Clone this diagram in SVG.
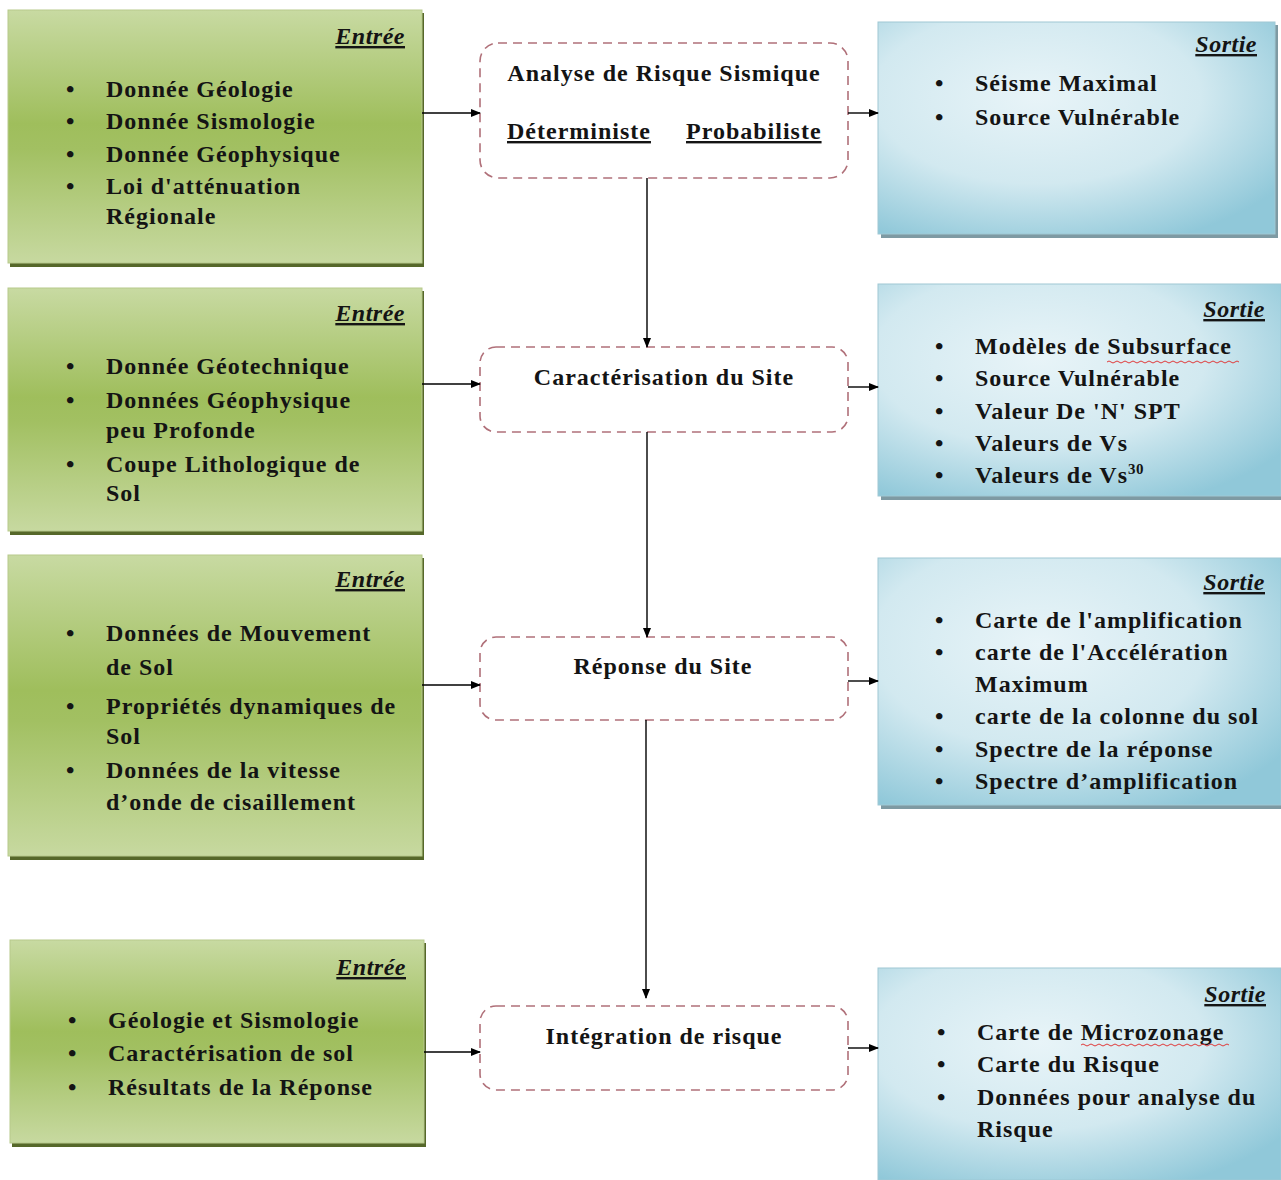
<svg xmlns="http://www.w3.org/2000/svg" width="1281" height="1180" viewBox="0 0 1281 1180">
<defs>
<linearGradient id="gGreen" x1="0" y1="0" x2="0" y2="1">
<stop offset="0" stop-color="#c8daa2"/>
<stop offset="0.45" stop-color="#9fbe5c"/>
<stop offset="0.55" stop-color="#a2c062"/>
<stop offset="1" stop-color="#c7d9a0"/>
</linearGradient>
<radialGradient id="gBlue" cx="0.4" cy="0.35" r="0.75">
<stop offset="0" stop-color="#e8f4f8"/>
<stop offset="0.55" stop-color="#d2e9f0"/>
<stop offset="1" stop-color="#90c8d9"/>
</radialGradient>
<marker id="ah" markerWidth="10" markerHeight="10" refX="9" refY="5" orient="auto" markerUnits="userSpaceOnUse">
<path d="M0,1 L10,5 L0,9 Z" fill="#000"/>
</marker>
</defs>
<style>
text{font-family:"Liberation Serif","Times New Roman",serif;font-weight:bold;font-size:24px;letter-spacing:1px;fill:#141414}
.hd{font-style:italic;text-anchor:end;text-decoration:underline;letter-spacing:0.5px}
.ctr{text-anchor:middle}
.ul{text-decoration:underline}
.green{fill:url(#gGreen);stroke:#b7c98c;stroke-width:1}
.gshadow{fill:#56682a}
.blue{fill:url(#gBlue);stroke:#9fc8d4;stroke-width:1}
.bshadow{fill:#7e9aa3}
.dash{fill:#fff;stroke:#b07079;stroke-width:1.6;stroke-dasharray:9 6}
.conn{stroke:#000;stroke-width:1.4;fill:none}
.wave{stroke:#e03a3a;stroke-width:1;fill:none}
</style>

<g id="in1">
<rect class="gshadow" x="10" y="13" width="414" height="254"/>
<rect class="green" x="8" y="10" width="414" height="253"/>
<text class="hd" x="405" y="44">Entrée</text>
<text x="66" y="97">•</text><text x="106" y="97">Donnée Géologie</text>
<text x="66" y="129">•</text><text x="106" y="129">Donnée Sismologie</text>
<text x="66" y="162">•</text><text x="106" y="162">Donnée Géophysique</text>
<text x="66" y="194">•</text><text x="106" y="194">Loi d'atténuation</text>
<text x="106" y="224">Régionale</text>
</g>

<g id="in2">
<rect class="gshadow" x="10" y="291" width="414" height="244"/>
<rect class="green" x="8" y="288" width="414" height="243"/>
<text class="hd" x="405" y="321">Entrée</text>
<text x="66" y="374">•</text><text x="106" y="374">Donnée Géotechnique</text>
<text x="66" y="408">•</text><text x="106" y="408">Données Géophysique</text>
<text x="106" y="438">peu Profonde</text>
<text x="66" y="472">•</text><text x="106" y="472">Coupe Lithologique de</text>
<text x="106" y="501">Sol</text>
</g>

<g id="in3">
<rect class="gshadow" x="10" y="558" width="414" height="302"/>
<rect class="green" x="8" y="555" width="414" height="301"/>
<text class="hd" x="405" y="587">Entrée</text>
<text x="66" y="641">•</text><text x="106" y="641">Données  de Mouvement</text>
<text x="106" y="675">de Sol</text>
<text x="66" y="714">•</text><text x="106" y="714">Propriétés dynamiques de</text>
<text x="106" y="744">Sol</text>
<text x="66" y="778">•</text><text x="106" y="778">Données de la vitesse</text>
<text x="106" y="810">d’onde de cisaillement</text>
</g>

<g id="in4">
<rect class="gshadow" x="12" y="943" width="414" height="204"/>
<rect class="green" x="10" y="940" width="414" height="203"/>
<text class="hd" x="406" y="975">Entrée</text>
<text x="68" y="1028">•</text><text x="108" y="1028">Géologie et Sismologie</text>
<text x="68" y="1061">•</text><text x="108" y="1061">Caractérisation de sol</text>
<text x="68" y="1095">•</text><text x="108" y="1095">Résultats de la Réponse</text>
</g>

<g id="p1">
<rect class="dash" x="480" y="43" width="368" height="135" rx="18"/>
<text class="ctr" x="664" y="81">Analyse de Risque Sismique</text>
<text class="ul" x="507" y="139">Déterministe</text>
<text class="ul" x="686" y="139">Probabiliste</text>
</g>

<g id="p2">
<rect class="dash" x="480" y="347" width="368" height="85" rx="16"/>
<text class="ctr" x="664" y="385">Caractérisation du Site</text>
</g>

<g id="p3">
<rect class="dash" x="480" y="637" width="368" height="83" rx="16"/>
<text class="ctr" x="663" y="674">Réponse du Site</text>
</g>

<g id="p4">
<rect class="dash" x="480" y="1006" width="368" height="84" rx="16"/>
<text class="ctr" x="664" y="1044">Intégration de risque</text>
</g>

<g id="out1">
<rect class="bshadow" x="881" y="25" width="397" height="213"/>
<rect class="blue" x="878" y="22" width="397" height="212"/>
<text class="hd" x="1257" y="52">Sortie</text>
<text x="935" y="91">•</text><text x="975" y="91">Séisme Maximal</text>
<text x="935" y="125">•</text><text x="975" y="125">Source Vulnérable</text>
</g>

<g id="out2">
<rect class="bshadow" x="881" y="287" width="403" height="213"/>
<rect class="blue" x="878" y="284" width="403" height="212"/>
<text class="hd" x="1265" y="317">Sortie</text>
<text x="935" y="354">•</text><text x="975" y="354">Modèles de Subsurface</text>
<path class="wave" d="M1107,362 q2,-2 4,0 t4,0 t4,0 t4,0 t4,0 t4,0 t4,0 t4,0 t4,0 t4,0 t4,0 t4,0 t4,0 t4,0 t4,0 t4,0 t4,0 t4,0 t4,0 t4,0 t4,0 t4,0 t4,0 t4,0 t4,0 t4,0 t4,0 t4,0 t4,0 t4,0 t4,0 t4,0 t4,0"/>
<text x="935" y="386">•</text><text x="975" y="386">Source Vulnérable</text>
<text x="935" y="419">•</text><text x="975" y="419">Valeur De  'N' SPT</text>
<text x="935" y="451">•</text><text x="975" y="451">Valeurs de Vs</text>
<text x="935" y="483">•</text><text x="975" y="483">Valeurs de Vs<tspan font-size="15" dy="-9" letter-spacing="0.5">30</tspan></text>
</g>

<g id="out3">
<rect class="bshadow" x="881" y="561" width="403" height="248"/>
<rect class="blue" x="878" y="558" width="403" height="247"/>
<text class="hd" x="1265" y="590">Sortie</text>
<text x="935" y="628">•</text><text x="975" y="628">Carte de l'amplification</text>
<text x="935" y="660">•</text><text x="975" y="660">carte de l'Accélération</text>
<text x="975" y="692">Maximum</text>
<text x="935" y="724">•</text><text x="975" y="724">carte de la colonne du sol</text>
<text x="935" y="757">•</text><text x="975" y="757">Spectre de la réponse</text>
<text x="935" y="789">•</text><text x="975" y="789">Spectre d’amplification</text>
</g>

<g id="out4">
<rect class="bshadow" x="881" y="971" width="403" height="212"/>
<rect class="blue" x="878" y="968" width="403" height="212"/>
<text class="hd" x="1266" y="1002">Sortie</text>
<text x="937" y="1040">•</text><text x="977" y="1040">Carte de Microzonage</text>
<path class="wave" d="M1081,1045 q2,-2 4,0 t4,0 t4,0 t4,0 t4,0 t4,0 t4,0 t4,0 t4,0 t4,0 t4,0 t4,0 t4,0 t4,0 t4,0 t4,0 t4,0 t4,0 t4,0 t4,0 t4,0 t4,0 t4,0 t4,0 t4,0 t4,0 t4,0 t4,0 t4,0 t4,0 t4,0 t4,0 t4,0 t4,0 t4,0 t4,0 t4,0"/>
<text x="937" y="1072">•</text><text x="977" y="1072">Carte du Risque</text>
<text x="937" y="1105">•</text><text x="977" y="1105">Données pour analyse du</text>
<text x="977" y="1137">Risque</text>
</g>

<g id="connectors">
<line class="conn" x1="422" y1="113" x2="480" y2="113" marker-end="url(#ah)"/>
<line class="conn" x1="848" y1="113" x2="878" y2="113" marker-end="url(#ah)"/>
<line class="conn" x1="647" y1="178" x2="647" y2="347" marker-end="url(#ah)"/>
<line class="conn" x1="422" y1="384" x2="480" y2="384" marker-end="url(#ah)"/>
<line class="conn" x1="848" y1="387" x2="878" y2="387" marker-end="url(#ah)"/>
<line class="conn" x1="647" y1="432" x2="647" y2="637" marker-end="url(#ah)"/>
<line class="conn" x1="422" y1="685" x2="480" y2="685" marker-end="url(#ah)"/>
<line class="conn" x1="848" y1="681" x2="878" y2="681" marker-end="url(#ah)"/>
<line class="conn" x1="646" y1="720" x2="646" y2="998" marker-end="url(#ah)"/>
<line class="conn" x1="424" y1="1052" x2="480" y2="1052" marker-end="url(#ah)"/>
<line class="conn" x1="848" y1="1048" x2="878" y2="1048" marker-end="url(#ah)"/>
</g>
</svg>
